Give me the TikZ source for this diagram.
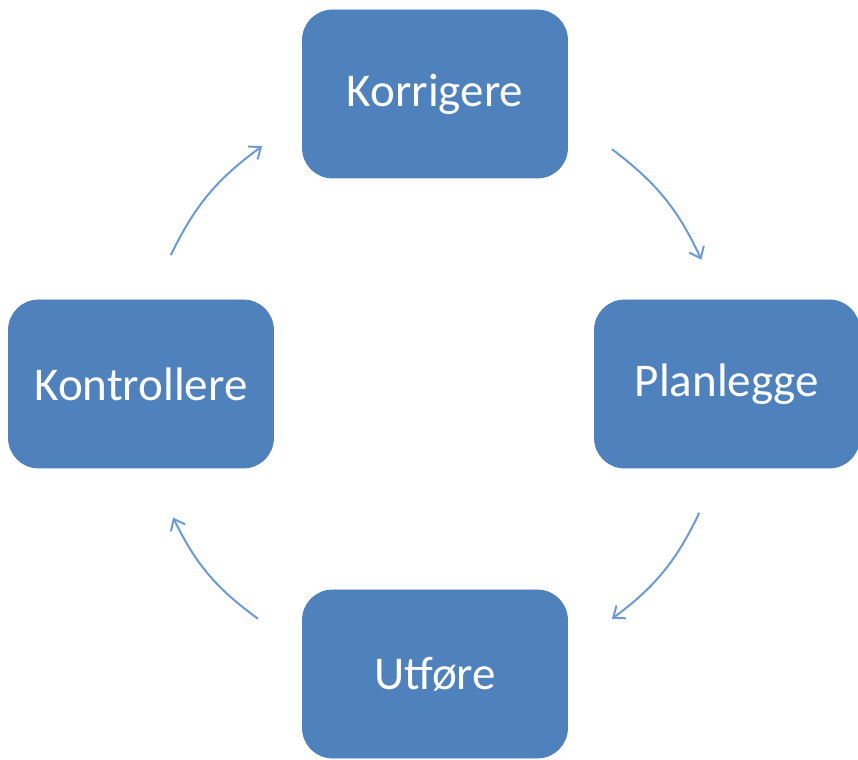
\documentclass[tikz,border=0pt]{standalone}
\usepackage{fontspec}
\setmainfont{Carlito}
\usetikzlibrary{arrows.meta}
\definecolor{boxblue}{HTML}{4F81BD}
\definecolor{arrowblue}{HTML}{6B9AD6}

\begin{document}
\begin{tikzpicture}[x=0.5pt, y=0.5pt]
  \tikzstyle{phase} = [rectangle, draw=boxblue, fill=boxblue, rounded corners=15pt,
                       minimum width=132.5pt, minimum height=84pt, text=white,
                       font=\fontsize{23.5}{28}\selectfont]
  \tikzstyle{flow} = [draw=arrowblue, line width=1pt,
                      -{Straight Barb[length=5pt, width=8pt]}]
\useasboundingbox (-435,-376) rectangle (423,384);
\node[phase](korr) at (0,290){Korrigere};
\node[phase](plan) at (292,0){Planlegge};
\node[phase](utf) at (0,-290){Utføre};
\node[phase](kont) at (-294,0){Kontrollere};
% ends of the arrows, on a circle round the middle
\coordinate (k1) at (53:294);
\coordinate (p0) at (25:294);
\coordinate (p1) at (-26:294);
\coordinate (u0) at (-53:294);
\coordinate (u1) at (-127:294);
\coordinate (c0) at (-153:294);
\coordinate (c1) at (154:294);
\coordinate (k0) at (126:294);
\draw[flow] (k1) to[bend left=14] (p0);
\draw[flow] (p1) to[bend left=14] (u0);
\draw[flow] (u1) to[bend left=14] (c0);
\draw[flow] (c1) to[bend left=14] (k0);
\end{tikzpicture}
\end{document}
